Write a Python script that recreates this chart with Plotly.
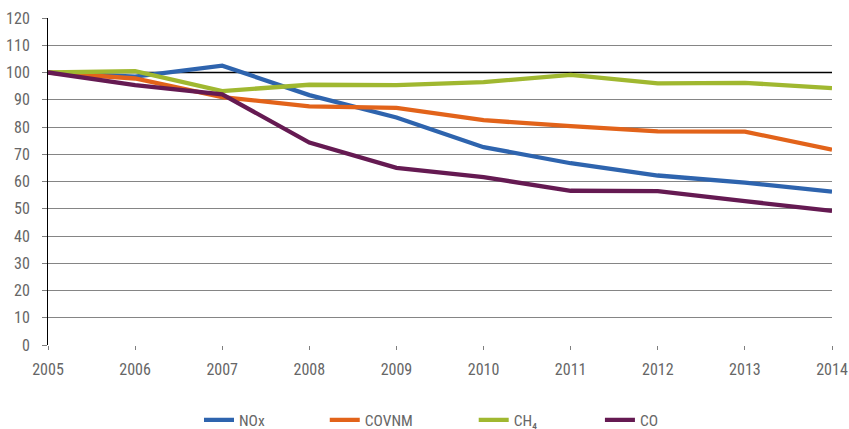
import plotly.graph_objects as go

years = [2005, 2006, 2007, 2008, 2009, 2010, 2011, 2012, 2013, 2014]
nox = [100, 98.5, 102.5, 91.7, 83.5, 72.6, 66.7, 62.2, 59.6, 56.3]
covnm = [100, 97.8, 91.0, 87.6, 87.0, 82.5, 80.3, 78.4, 78.3, 71.7]
ch4 = [100, 100.5, 93.2, 95.5, 95.4, 96.5, 99.1, 96.0, 96.2, 94.3]
co = [100, 95.4, 92.0, 74.3, 65.0, 61.6, 56.6, 56.5, 52.8, 49.2]
base_level = 100  # index base year = 100 (drawn as a black reference line)

series = [
    ("NOx", nox, "#2E64AE"),
    ("COVNM", covnm, "#E2631A"),
    ("CH₄", ch4, "#A0B830"),
    ("CO", co, "#651A52"),
]
legend_x = [0.1926, 0.353, 0.543, 0.704]

FONT = "Liberation Sans Narrow, Roboto Condensed, Roboto, sans-serif"
TXT = "#666666"

fig = go.Figure()
# reference line at the base level, drawn first so it sits under the series
fig.add_trace(go.Scatter(x=[years[0], years[-1]], y=[base_level, base_level],
                         mode="lines", line=dict(color="#000000", width=1.3),
                         showlegend=False, hoverinfo="skip"))

legend_ids = ["legend", "legend2", "legend3", "legend4"]
for (name, vals, color), lid in zip(series, legend_ids):
    fig.add_trace(go.Scatter(x=years, y=vals, name=name, mode="lines",
                             line=dict(color=color, width=4.3), legend=lid))

layout_legends = {}
for lid, lx in zip(legend_ids, legend_x):
    layout_legends[lid] = dict(orientation="h", x=lx, xanchor="left", y=-0.23,
                               yanchor="middle", bgcolor="rgba(0,0,0,0)",
                               font=dict(family=FONT, size=15.5, color=TXT))

fig.update_layout(
    width=849, height=429,
    margin=dict(l=48, r=17, t=18, b=84, autoexpand=False),
    plot_bgcolor="white", paper_bgcolor="white",
    font=dict(family=FONT, size=16, color=TXT),
    showlegend=True,
    **layout_legends,
    xaxis=dict(range=[2005, 2014], tickmode="array", tickvals=years,
               showgrid=False, zeroline=False, showline=False,
               ticks="outside", ticklen=4, tickcolor="#7f7f7f",
               ticklabelstandoff=6, automargin=False),
    yaxis=dict(range=[0, 120], dtick=10, showgrid=True, gridcolor="#858585",
               gridwidth=1.3, zeroline=False, showline=True, linecolor="#000000",
               linewidth=1, ticks="outside", ticklen=5, tickcolor="#7f7f7f",
               ticklabelstandoff=9, automargin=False),
)

# remove the default 8px page margin so the figure fills the window exactly
fig.write_html("out.html", config={"displayModeBar": False},
               post_script="document.body.style.margin='0px';")
